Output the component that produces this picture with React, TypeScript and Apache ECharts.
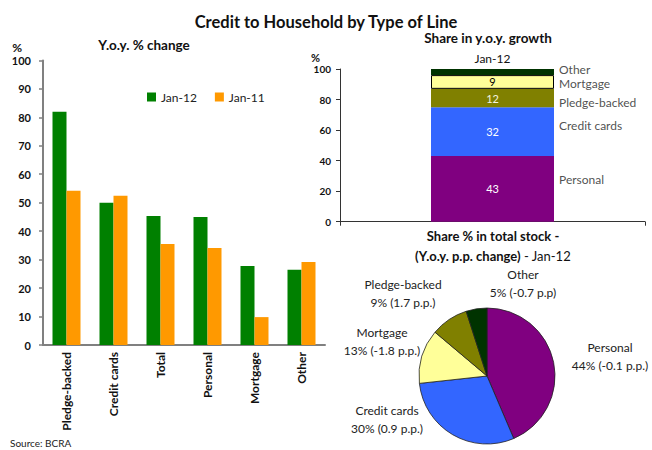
import React, { useEffect, useRef } from "react";
import * as echarts from "echarts";

const categories = ["Pledge-backed", "Credit cards", "Total", "Personal", "Mortgage", "Other"];
const jan12 = [82, 50, 45.3, 45, 27.8, 26.4];
const jan11 = [54.2, 52.4, 35.5, 34.1, 9.8, 29.2];

const shareNames = ["Personal", "Credit cards", "Pledge-backed", "Mortgage", "Other"];
const shareValues = [43, 32, 12, 9, 4];

const stockNames = ["Personal", "Credit cards", "Mortgage", "Pledge-backed", "Other"];
const stockShares = [44, 30, 13, 9, 5];
const stockChanges = ["-0.1 p.p.", "0.9 p.p.", "-1.8 p.p.", "1.7 p.p.", "-0.7 p.p"];

const FONT = "Lato";
const shareColors = ["#800080", "#3366FF", "#808000", "#FFFF99", "#003300"];
const shareLabelColors = ["#ffffff", "#ffffff", "#f4f4e0", "#000000", "#ffffff"];
const nameLabelNudge = [-9, -6, 4, 2, -3];
const stockColors: Record<string, string> = {
  Personal: "#800080",
  "Credit cards": "#3366FF",
  Mortgage: "#FFFF99",
  "Pledge-backed": "#808000",
  Other: "#003300",
};
const pieCenter = [487, 376];
const pieLabelOffsets = [
  [123, -20],
  [-100, 43],
  [-105, -35],
  [-84, -83],
  [36, -93],
];

export default function App() {
  const ref = useRef<HTMLDivElement>(null);
  useEffect(() => {
    document.body.style.margin = "0";
    const chart = echarts.init(ref.current!, null, { renderer: "svg" });

    const cum: number[] = [];
    let acc = 0;
    shareValues.forEach((v) => {
      cum.push(acc + v / 2);
      acc += v;
    });

    const stackSeries = shareNames.map((n, i) => ({
      type: "bar",
      name: n,
      stack: "share",
      xAxisIndex: 1,
      yAxisIndex: 1,
      barWidth: 123,
      data: [shareValues[i]],
      itemStyle: {
        color: shareColors[i],
        borderColor: n === "Mortgage" ? "#000" : undefined,
        borderWidth: n === "Mortgage" ? 1 : 0,
      },
      label: {
        show: n !== "Other",
        position: "inside",
        color: shareLabelColors[i],
        fontFamily: FONT,
        fontSize: 11,
      },
    }));

    const option: any = {
      animation: false,
      textStyle: { fontFamily: FONT },
      title: [
        {
          text: "Credit to Household by Type of Line",
          left: 326,
          textAlign: "center",
          top: 13,
          padding: 0,
          textStyle: { fontFamily: FONT, fontSize: 16.5, fontWeight: "bold", color: "#111" },
        },
        {
          text: "Y.o.y. % change",
          left: 144,
          textAlign: "center",
          top: 38,
          padding: 0,
          textStyle: { fontFamily: FONT, fontSize: 13.5, fontWeight: "bold", color: "#111" },
        },
        {
          text: "Share in y.o.y. growth",
          left: 488,
          textAlign: "center",
          top: 31,
          padding: 0,
          textStyle: { fontFamily: FONT, fontSize: 13.5, fontWeight: "bold", color: "#111" },
        },
        {
          text: "{b|Share % in total stock -}\n{b|(Y.o.y. p.p. change)}{n| - Jan-12}",
          left: 493,
          textAlign: "center",
          top: 226,
          padding: 0,
          textStyle: {
            fontWeight: "normal",
            rich: {
              b: { fontFamily: FONT, fontSize: 13, fontWeight: "bold", color: "#111", lineHeight: 20 },
              n: { fontFamily: FONT, fontSize: 13, fontWeight: "normal", color: "#111", lineHeight: 20 },
            },
          },
        },
        {
          text: "Source: BCRA",
          left: 10,
          top: 438,
          padding: 0,
          textStyle: { fontFamily: FONT, fontSize: 10, fontWeight: "normal", color: "#222" },
        },
      ],
      legend: {
        data: ["Jan-12", "Jan-11"],
        left: 147,
        top: 91,
        padding: 0,
        itemWidth: 9,
        itemHeight: 9,
        itemGap: 18,
        icon: "rect",
        textStyle: { fontFamily: FONT, fontSize: 12, color: "#222" },
      },
      grid: [
        { left: 43, top: 60.4, width: 282, height: 284.6, containLabel: false, outerBoundsMode: "none" },
        { left: 340, top: 69, width: 305, height: 152.7, containLabel: false, outerBoundsMode: "none" },
      ],
      xAxis: [
        {
          type: "category",
          gridIndex: 0,
          data: categories,
          axisLine: { lineStyle: { color: "#808080", width: 2 } },
          axisTick: { show: false },
          axisLabel: {
            rotate: 90,
            margin: 7,
            fontFamily: FONT,
            fontSize: 12,
            fontWeight: "bold",
            color: "#111",
            interval: 0,
          },
        },
        {
          type: "category",
          gridIndex: 1,
          data: ["Jan-12"],
          position: "bottom",
          axisLine: { lineStyle: { color: "#333", width: 1 } },
          axisTick: { show: true, length: 4, lineStyle: { color: "#333" } },
          axisLabel: { show: false },
        },
        {
          type: "category",
          gridIndex: 1,
          data: ["Jan-12"],
          position: "top",
          axisLine: { show: false, onZero: false },
          axisTick: { show: false },
          axisLabel: { fontFamily: FONT, fontSize: 12, color: "#111", margin: 5 },
        },
      ],
      yAxis: [
        {
          type: "value",
          gridIndex: 0,
          min: 0,
          max: 100,
          interval: 10,
          name: "%",
          nameLocation: "end",
          nameGap: 7,
          nameTextStyle: { fontFamily: FONT, fontSize: 12, fontWeight: "bold", color: "#111", align: "right", padding: [0, 21, 0, 0] },
          axisLine: { show: true, lineStyle: { color: "#808080", width: 2 } },
          axisTick: { show: true, length: 4, lineStyle: { color: "#808080", width: 1.5 } },
          splitLine: { show: false },
          axisLabel: { fontFamily: FONT, fontSize: 11, fontWeight: "bold", color: "#111", margin: 12 },
        },
        {
          type: "value",
          gridIndex: 1,
          min: 0,
          max: 100,
          interval: 20,
          name: "%",
          nameLocation: "end",
          nameGap: 6,
          nameTextStyle: { fontFamily: FONT, fontSize: 11, fontWeight: "bold", color: "#111", align: "right", padding: [0, 20, 0, 0] },
          axisLine: { show: true, lineStyle: { color: "#333", width: 1 } },
          axisTick: { show: true, length: 4, lineStyle: { color: "#333" } },
          splitLine: { show: false },
          axisLabel: { fontFamily: FONT, fontSize: 10, fontWeight: "bold", color: "#111", margin: 9 },
        },
      ],
      series: [
        {
          type: "bar",
          name: "Jan-12",
          xAxisIndex: 0,
          yAxisIndex: 0,
          data: jan12,
          barWidth: 14,
          barGap: "0%",
          itemStyle: { color: "#008000" },
        },
        {
          type: "bar",
          name: "Jan-11",
          xAxisIndex: 0,
          yAxisIndex: 0,
          data: jan11,
          barWidth: 14,
          barGap: "0%",
          itemStyle: { color: "#FF9900" },
        },
        ...stackSeries,
        {
          type: "scatter",
          name: "share-names",
          xAxisIndex: 1,
          yAxisIndex: 1,
          symbolSize: 1,
          itemStyle: { color: "rgba(0,0,0,0)" },
          silent: true,
          z: 5,
          data: shareNames.map((n, i) => ({
            value: [0, cum[i]],
            name: n,
          })),
          label: {
            show: true,
            position: "right",
            distance: 66,
            formatter: "{b}",
            fontFamily: FONT,
            fontSize: 12,
            color: "#222",
          },
          labelLayout: (p: any) => ({ dy: nameLabelNudge[p.dataIndex], hideOverlap: false }),
        },
        {
          type: "pie",
          name: "stock",
          center: pieCenter,
          radius: 68,
          startAngle: 90,
          clockwise: true,
          itemStyle: { borderColor: "#222", borderWidth: 0.8 },
          data: stockNames.map((n, i) => ({
            name: n,
            value: stockShares[i],
            itemStyle: { color: stockColors[n] },
          })),
          label: {
            show: true,
            formatter: (p: any) => `${p.name}\n${stockShares[p.dataIndex]}% (${stockChanges[p.dataIndex]})`,
            fontFamily: FONT,
            fontSize: 12,
            lineHeight: 18,
            color: "#222",
            align: "center",
            overflow: "none",
            width: 120,
          },
          labelLine: { show: false },
          labelLayout: (p: any) => ({
            x: pieCenter[0] + pieLabelOffsets[p.dataIndex][0],
            y: pieCenter[1] + pieLabelOffsets[p.dataIndex][1],
            align: "center",
            verticalAlign: "middle",
          }),
        },
      ],
    };
    chart.setOption(option);
    return () => chart.dispose();
  }, []);
  return <div ref={ref} style={{ width: 652, height: 450 }} />;
}
